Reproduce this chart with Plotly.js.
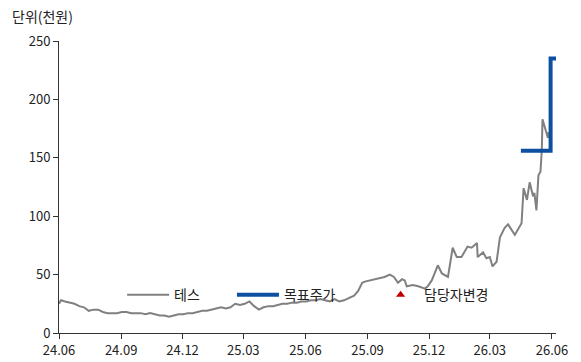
<!DOCTYPE html>
<html>
<head>
<meta charset="utf-8">
<script src="https://cdn.plot.ly/plotly-3.0.1.min.js"></script>
<style>html,body{margin:0;padding:0;background:#fff;}#chart{width:581px;height:362px;}</style>
</head>
<body>
<div id="chart"></div>
<script>
const priceDates = [
 '2024-06-01','2024-06-04','2024-06-10','2024-06-17','2024-06-24','2024-07-01','2024-07-08','2024-07-15','2024-07-22','2024-07-29',
 '2024-08-05','2024-08-12','2024-08-19','2024-08-26','2024-09-02','2024-09-09','2024-09-16','2024-09-23','2024-09-30','2024-10-07',
 '2024-10-14','2024-10-21','2024-10-28','2024-11-04','2024-11-11','2024-11-18','2024-11-25','2024-12-02','2024-12-09','2024-12-16',
 '2024-12-23','2024-12-30','2025-01-06','2025-01-13','2025-01-20','2025-01-27','2025-02-03','2025-02-10','2025-02-17','2025-02-24',
 '2025-03-03','2025-03-10','2025-03-17','2025-03-24','2025-03-31','2025-04-07','2025-04-14','2025-04-21','2025-04-28','2025-05-05',
 '2025-05-12','2025-05-19','2025-05-26','2025-06-02','2025-06-09','2025-06-16','2025-06-23','2025-06-30','2025-07-07','2025-07-14',
 '2025-07-21','2025-07-28','2025-08-04','2025-08-12','2025-08-18','2025-08-24','2025-08-28','2025-09-04','2025-09-12','2025-09-19',
 '2025-09-26','2025-10-04','2025-10-10','2025-10-16','2025-10-22','2025-10-26','2025-10-29','2025-11-07','2025-11-15','2025-11-25',
 '2025-11-29','2025-12-05','2025-12-10','2025-12-14','2025-12-20','2025-12-29','2026-01-05','2026-01-11','2026-01-18','2026-01-27',
 '2026-02-02','2026-02-10','2026-02-11','2026-02-19','2026-02-24','2026-03-01','2026-03-05','2026-03-11','2026-03-16','2026-03-23',
 '2026-03-28','2026-04-02','2026-04-07','2026-04-17','2026-04-20','2026-04-25','2026-04-29','2026-05-04','2026-05-06','2026-05-09',
 '2026-05-12','2026-05-15','2026-05-17','2026-05-18','2026-05-21','2026-05-24','2026-05-26','2026-05-27'
];
const priceValues = [
 25,28,27,26,25,23,22,19,20,20,
 18,17,17,17,18,18,17,17,17,16,
 17,16,15,15,14,15,16,16,17,17,
 18,19,19,20,21,22,21,22,25,24,
 25,27,23,20,22,23,23,24,25,25,
 26,26,27,27,28,28,29,28,27,29,
 27,28,30,32,36,43,44,45,46,47,
 48,50,48,43,46,45,40,41,40,38,
 40,45,52,58,51,48,73,65,65,74,
 73,77,65,69,64,65,57,61,82,90,
 93,88,84,94,124,114,129,117,120,105,
 135,138,157,183,177,171,167,172
];
const targetDates = ['2026-04-16','2026-05-30','2026-06-07'];
const targetValues = [156, 235, 235];
const xTickStart = '2024-06-01';
const xRange = ['2024-06-01','2026-06-07'];
const yRange = [0, 250];

const font = '"Noto Sans CJK KR", "Noto Sans", sans-serif';
const legFont = {family: font, size: 14, color: '#222'};

const traces = [
  {x: priceDates, y: priceValues, type: 'scatter', mode: 'lines', name: '테스',
   line: {color: '#808080', width: 2}, legend: 'legend'},
  {x: targetDates, y: targetValues, type: 'scatter', mode: 'lines', name: '목표주가',
   line: {color: '#0d4fa1', width: 4, shape: 'hv'}, legend: 'legend2'},
  {x: [null], y: [null], type: 'scatter', mode: 'markers', name: '담당자변경',
   marker: {symbol: 'triangle-up', color: '#c00000', size: 8}, legend: 'legend3'}
];

function leg(x, iw) {
  return {orientation: 'h', x: x, xanchor: 'left', y: 0.13, yanchor: 'middle',
          bgcolor: 'rgba(0,0,0,0)', font: legFont, itemwidth: iw};
}

const layout = {
  width: 581, height: 362,
  margin: {l: 59, r: 25, t: 41, b: 29, pad: 0},
  paper_bgcolor: '#fff', plot_bgcolor: '#fff',
  font: {family: font, size: 14, color: '#222'},
  title: {text: '단위(천원)', x: 12/581, xanchor: 'left', y: 1 - 17/362, yanchor: 'middle',
          font: {family: font, size: 14, color: '#222'}},
  showlegend: true,
  legend: leg(0.127, 42),
  legend2: leg(0.348, 42),
  legend3: leg(0.640, 37),
  xaxis: {type: 'date', range: xRange, tick0: xTickStart, dtick: 'M3', tickformat: '%y.%m',
          showgrid: false, zeroline: false, showline: true, linecolor: '#333', linewidth: 1,
          ticks: 'outside', ticklen: 5, tickcolor: '#333', tickfont: {family: font, size: 13, color: '#222'}},
  yaxis: {range: yRange, dtick: 50, showgrid: false, zeroline: false, showline: true,
          linecolor: '#333', linewidth: 1, ticks: 'outside', ticklen: 5, tickcolor: '#333',
          tickfont: {family: font, size: 13, color: '#222'}}
};

Plotly.newPlot('chart', traces, layout, {displayModeBar: false, staticPlot: true});
</script>
</body>
</html>
